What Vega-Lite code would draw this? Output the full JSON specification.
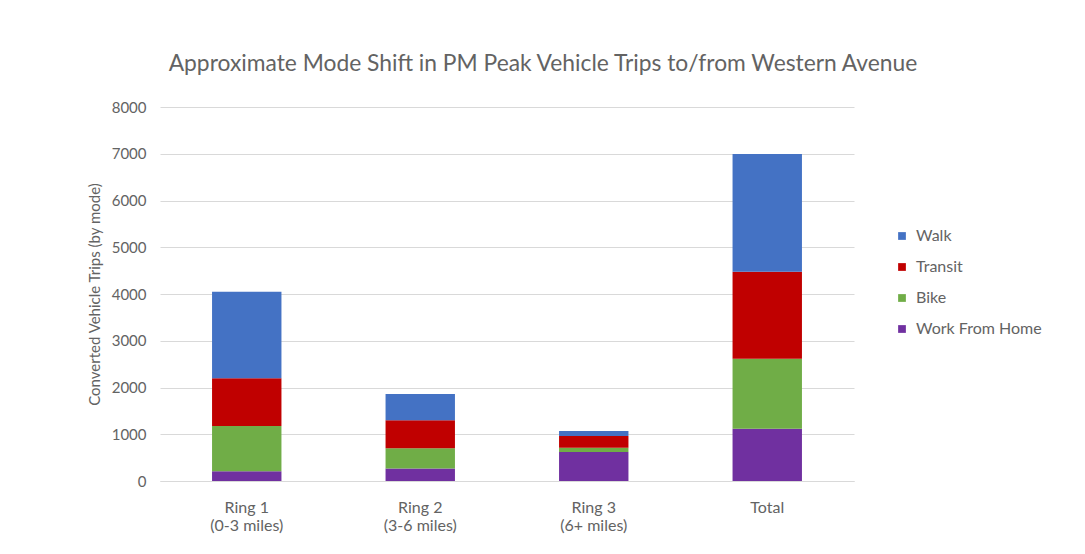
{
  "$schema": "https://vega.github.io/schema/vega-lite/v6.json",
  "width": 694,
  "height": 374,
  "autosize": {"type": "none"},
  "padding": {"left": 160, "top": 107, "right": 231, "bottom": 73},
  "background": "white",
  "title": {
    "text": "Approximate Mode Shift in PM Peak Vehicle Trips to/from Western Avenue",
    "font": "Lato",
    "fontSize": 22.8,
    "fontWeight": "normal",
    "color": "#636363",
    "anchor": "middle",
    "offset": 24,
    "frame": "group",
    "dx": 36
  },
  "data": {
    "values": [
      {"ring": "Ring 1|(0-3 miles)", "mode": "Work From Home", "trips": 210, "rank": 1},
      {"ring": "Ring 1|(0-3 miles)", "mode": "Bike", "trips": 965, "rank": 2},
      {"ring": "Ring 1|(0-3 miles)", "mode": "Transit", "trips": 1025, "rank": 3},
      {"ring": "Ring 1|(0-3 miles)", "mode": "Walk", "trips": 1850, "rank": 4},
      {"ring": "Ring 2|(3-6 miles)", "mode": "Work From Home", "trips": 270, "rank": 1},
      {"ring": "Ring 2|(3-6 miles)", "mode": "Bike", "trips": 430, "rank": 2},
      {"ring": "Ring 2|(3-6 miles)", "mode": "Transit", "trips": 600, "rank": 3},
      {"ring": "Ring 2|(3-6 miles)", "mode": "Walk", "trips": 560, "rank": 4},
      {"ring": "Ring 3|(6+ miles)", "mode": "Work From Home", "trips": 620, "rank": 1},
      {"ring": "Ring 3|(6+ miles)", "mode": "Bike", "trips": 90, "rank": 2},
      {"ring": "Ring 3|(6+ miles)", "mode": "Transit", "trips": 250, "rank": 3},
      {"ring": "Ring 3|(6+ miles)", "mode": "Walk", "trips": 110, "rank": 4},
      {"ring": "Total", "mode": "Work From Home", "trips": 1115, "rank": 1},
      {"ring": "Total", "mode": "Bike", "trips": 1500, "rank": 2},
      {"ring": "Total", "mode": "Transit", "trips": 1860, "rank": 3},
      {"ring": "Total", "mode": "Walk", "trips": 2520, "rank": 4}
    ]
  },
  "mark": {"type": "bar"},
  "encoding": {
    "x": {
      "field": "ring",
      "type": "nominal",
      "sort": null,
      "scale": {"paddingInner": 0.6, "paddingOuter": 0.3},
      "axis": {
        "title": null,
        "labelAngle": 0,
        "labelExpr": "split(datum.label, '|')",
        "labelFont": "Lato",
        "labelFontSize": 16,
        "labelColor": "#636363",
        "labelPadding": 18,
        "labelLineHeight": 18,
        "ticks": false,
        "domainColor": "#d9d9d9",
        "grid": false
      }
    },
    "y": {
      "field": "trips",
      "type": "quantitative",
      "stack": "zero",
      "scale": {"domain": [0, 8000]},
      "axis": {
        "title": "Converted Vehicle Trips (by mode)",
        "titleFont": "Lato",
        "titleFontSize": 15,
        "titleFontWeight": "normal",
        "titleColor": "#636363",
        "titlePadding": 9,
        "values": [0, 1000, 2000, 3000, 4000, 5000, 6000, 7000, 8000],
        "format": "d",
        "labelFont": "Lato",
        "labelFontSize": 15,
        "labelColor": "#636363",
        "labelPadding": 14,
        "ticks": false,
        "domain": false,
        "gridColor": "#d9d9d9",
        "gridWidth": 1
      }
    },
    "color": {
      "field": "mode",
      "type": "nominal",
      "scale": {
        "domain": ["Walk", "Transit", "Bike", "Work From Home"],
        "range": ["#4472C4", "#C00000", "#70AD47", "#7030A0"]
      },
      "legend": {
        "title": null,
        "orient": "none",
        "legendX": 734,
        "legendY": 121,
        "symbolType": "square",
        "symbolSize": 60,
        "symbolStrokeWidth": 0,
        "rowPadding": 15,
        "labelFont": "Lato",
        "labelFontSize": 16,
        "labelColor": "#636363",
        "labelOffset": 6
      }
    },
    "order": {"field": "rank", "type": "quantitative", "sort": "ascending"}
  },
  "config": {
    "view": {"stroke": null}
  }
}
